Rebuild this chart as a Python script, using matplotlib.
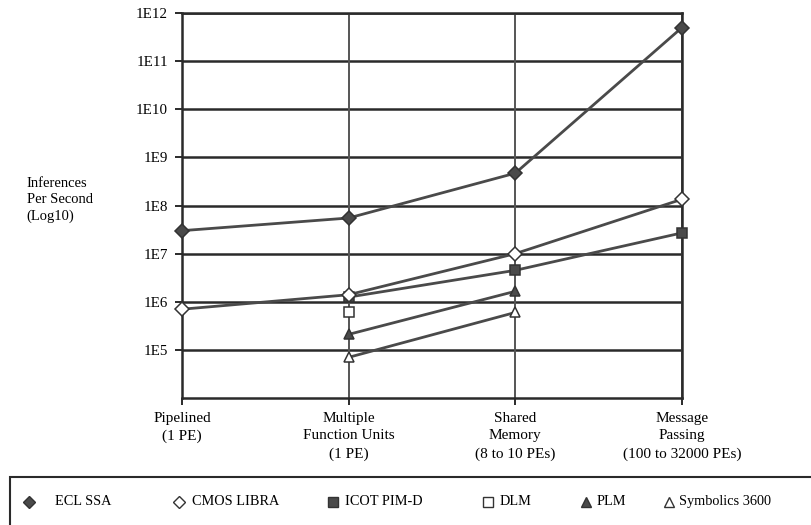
import matplotlib.pyplot as plt
from matplotlib.lines import Line2D
from matplotlib.patches import Rectangle

plt.rcParams['font.family'] = ['Liberation Serif', 'DejaVu Serif']

# categories on the x axis
stages = ['Pipelined\n(1 PE)', 'Multiple\nFunction Units\n(1 PE)',
          'Shared\nMemory\n(8 to 10 PEs)', 'Message\nPassing\n(100 to 32000 PEs)']

# inferences per second (None = no point)
ecl_ssa = [3.0e7, 5.5e7, 4.7e8, 5.0e11]
cmos_libra = [7.0e5, 1.4e6, 1.0e7, 1.35e8]
icot_pimd = [None, 1.25e6, 4.5e6, 2.7e7]
dlm = [None, 6.0e5, None, None]
plm = [None, 2.1e5, 1.65e6, None]
symbolics = [None, 7.0e4, 6.0e5, None]

names = ['ECL SSA', 'CMOS LIBRA', 'ICOT PIM-D', 'DLM', 'PLM', 'Symbolics 3600']
series = [ecl_ssa, cmos_libra, icot_pimd, dlm, plm, symbolics]
markers = ['D', 'D', 's', 's', '^', '^']
filled = [True, False, True, False, True, False]

yticks = [1e5, 1e6, 1e7, 1e8, 1e9, 1e10, 1e11, 1e12]
ylabels = ['1E5', '1E6', '1E7', '1E8', '1E9', '1E10', '1E11', '1E12']

line_col = '#4a4a4a'
grid_col = '#2a2a2a'

fig = plt.figure(figsize=(8.12, 5.25), dpi=100)
ax = fig.add_axes([0.2241, 0.2419, 0.6158, 0.7333])

ax.set_yscale('log')
ax.set_ylim(1e4, 1e12)
ax.set_xlim(0, 3)
ax.set_yticks(yticks)
ax.set_yticklabels(ylabels)
ax.minorticks_off()
ax.set_xticks(range(len(stages)))
ax.set_xticklabels(stages, linespacing=1.45, fontsize=11)
ax.tick_params(axis='y', labelsize=10.8)
ax.tick_params(axis='both', length=5, width=1.4, color=grid_col, pad=5)

for y in yticks:
    ax.axhline(y, color=grid_col, lw=1.8, zorder=1)
for x in range(len(stages)):
    ax.axvline(x, color='#555555', lw=1.4, zorder=1)
for s in ax.spines.values():
    s.set_color(grid_col)
    s.set_linewidth(1.8)

# draw last series first so ECL SSA / CMOS LIBRA end up on top
for k in range(len(series) - 1, -1, -1):
    vals, m, f = series[k], markers[k], filled[k]
    xs = [i for i, v in enumerate(vals) if v is not None]
    ys = [v for v in vals if v is not None]
    ax.plot(xs, ys, color=line_col, lw=2, marker=m, ms=7,
            markerfacecolor=line_col if f else 'white',
            markeredgecolor='#333333', markeredgewidth=1.1, zorder=3,
            clip_on=False)

fig.text(0.033, 0.619, 'Inferences\nPer Second\n(Log10)', fontsize=10.5,
         ha='left', va='center', linespacing=1.35)

# legend box along the bottom edge
fig.patches.append(Rectangle((0.012, -0.05), 1.1, 0.1414, transform=fig.transFigure,
                             fill=False, edgecolor=grid_col, lw=1.5))
mark_x = [0.0357, 0.2204, 0.4101, 0.6010, 0.7217, 0.8239]
text_x = [0.0677, 0.2365, 0.4249, 0.6158, 0.7352, 0.8362]
leg_y = 0.044
for mx, tx, name, m, f in zip(mark_x, text_x, names, markers, filled):
    fig.add_artist(Line2D([mx], [leg_y], transform=fig.transFigure, marker=m,
                          ms=6.5, linestyle='none',
                          markerfacecolor=line_col if f else 'white',
                          markeredgecolor='#333333', markeredgewidth=1.0))
    fig.text(tx, leg_y, name, fontsize=10.3, ha='left', va='center')

fig.savefig('out.png', dpi=100)
